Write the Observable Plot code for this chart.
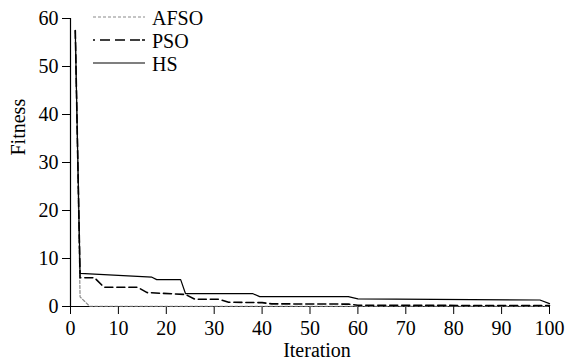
<!DOCTYPE html>
<html>
<head>
<meta charset="utf-8">
<script src="https://cdn.jsdelivr.net/npm/d3@7"></script>
<script src="https://cdn.jsdelivr.net/npm/@observablehq/plot@0.6"></script>
<style>
  html, body { margin: 0; padding: 0; background: #fff; }
  #wrap { position: relative; width: 569px; height: 364px; }
  #legend { position: absolute; left: 0; top: 0; }
</style>
</head>
<body>
<div id="wrap"></div>
<script>
// Convergence curves: best fitness per iteration for each optimiser
const seriesNames = ["AFSO", "PSO", "HS"];

const afsoIter = [1, 2, 4, 100];
const afsoFit  = [57.5, 2.0, 0.05, 0.05];

const psoIter = [1, 2, 5, 7, 14, 16, 24, 26, 31, 33, 40, 42, 58, 60, 100];
const psoFit  = [57.5, 6.0, 6.0, 4.0, 4.0, 2.9, 2.5, 1.5, 1.5, 0.9, 0.8, 0.55, 0.5, 0.25, 0.2];

const hsIter = [1, 2, 17, 18, 23, 24, 38, 39.5, 58, 60, 98, 100];
const hsFit  = [57.5, 6.9, 6.1, 5.6, 5.6, 2.7, 2.7, 2.05, 2.05, 1.6, 1.35, 0.6];

const xTicks = [0, 10, 20, 30, 40, 50, 60, 70, 80, 90, 100];
const yTicks = [0, 10, 20, 30, 40, 50, 60];

const toRows = (xs, ys) => xs.map((x, i) => ({x, y: ys[i]}));
const afso = toRows(afsoIter, afsoFit);
const pso = toRows(psoIter, psoFit);
const hs = toRows(hsIter, hsFit);

const styles = {
  AFSO: {stroke: "#8a8a8a", strokeWidth: 1.2, dash: "3,2"},
  PSO:  {stroke: "#000", strokeWidth: 1.6, dash: "8,4"},
  HS:   {stroke: "#000", strokeWidth: 1.2, dash: null}
};

const chart = Plot.plot({
  width: 569,
  height: 364,
  marginLeft: 70,
  marginRight: 20,
  marginTop: 18,
  marginBottom: 58,
  style: {fontFamily: "'Liberation Serif', 'Times New Roman', serif", fontSize: "20px", background: "#fff", color: "#000"},
  x: {domain: [0, 100]},
  y: {domain: [0, 60]},
  marks: [
    Plot.axisX({ticks: xTicks, tickSize: 8, tickPadding: 6, label: null, fontSize: 20}),
    Plot.axisY({ticks: yTicks, tickSize: 8, tickPadding: 4, label: null, fontSize: 20}),
    Plot.ruleY([0], {stroke: "#000", strokeWidth: 1.2}),
    Plot.ruleX([0], {stroke: "#000", strokeWidth: 1.2}),
    Plot.line(afso, {x: "x", y: "y", stroke: styles.AFSO.stroke, strokeWidth: styles.AFSO.strokeWidth, strokeDasharray: styles.AFSO.dash}),
    Plot.line(pso, {x: "x", y: "y", stroke: styles.PSO.stroke, strokeWidth: styles.PSO.strokeWidth, strokeDasharray: styles.PSO.dash}),
    Plot.line(hs, {x: "x", y: "y", stroke: styles.HS.stroke, strokeWidth: styles.HS.strokeWidth}),
    Plot.text(["Iteration"], {frameAnchor: "bottom", dx: 7, dy: 50, lineAnchor: "bottom", fontSize: 20}),
    Plot.text(["Fitness"], {frameAnchor: "left", dx: -52, dy: -7, rotate: -90, fontSize: 20})
  ]
});

const wrap = document.getElementById("wrap");
wrap.appendChild(chart);

// Legend in the upper-left of the plot area
const ns = "http://www.w3.org/2000/svg";
const leg = document.createElementNS(ns, "svg");
leg.setAttribute("id", "legend");
leg.setAttribute("width", 260);
leg.setAttribute("height", 80);
seriesNames.forEach((name, i) => {
  const s = styles[name];
  const yLine = 17 + i * 23;
  const line = document.createElementNS(ns, "line");
  line.setAttribute("x1", 93);
  line.setAttribute("x2", 145);
  line.setAttribute("y1", yLine);
  line.setAttribute("y2", yLine);
  line.setAttribute("stroke", s.stroke);
  line.setAttribute("stroke-width", s.strokeWidth);
  if (name === "PSO") line.setAttribute("stroke-dasharray", "2,5,10,5,10,5,10");
  else if (s.dash) line.setAttribute("stroke-dasharray", s.dash);
  leg.appendChild(line);
  const t = document.createElementNS(ns, "text");
  t.setAttribute("x", 152);
  t.setAttribute("y", yLine + 3);
  t.setAttribute("dominant-baseline", "middle");
  t.setAttribute("font-family", "'Liberation Serif', 'Times New Roman', serif");
  t.setAttribute("font-size", 20);
  t.textContent = name;
  leg.appendChild(t);
});
wrap.appendChild(leg);
</script>
</body>
</html>
